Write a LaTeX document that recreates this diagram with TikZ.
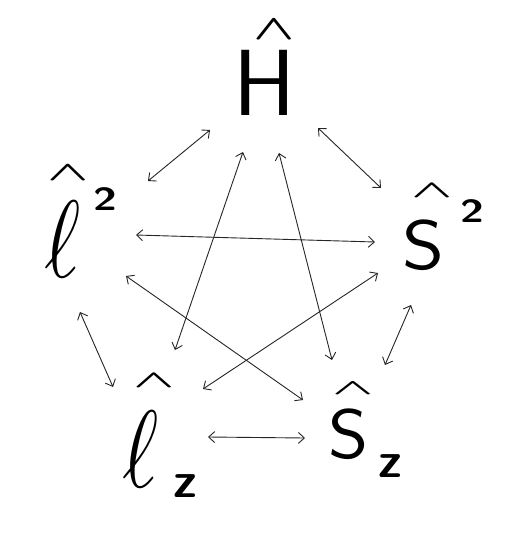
\RequirePackage{fix-cm}
\documentclass[tikz,border=0pt]{standalone}
\usetikzlibrary{arrows.meta}
\newcommand\hatmark[3]{\makebox[0pt][l]{\hspace*{#1}\raisebox{#2}{\scalebox{1}[#3]{\fontsize{54}{54}\selectfont\boldmath$\wedge$}}}}
\newcommand\bigell{\scalebox{0.8}[1]{\fontsize{110}{110}\selectfont$\ell$}}
\newcommand\suptwo{\scalebox{1.35}[1]{\fontsize{32}{32}\selectfont\sffamily\bfseries 2}}
\newcommand\subz{\fontsize{50}{50}\selectfont\sffamily\bfseries z}
\begin{document}
\begin{tikzpicture}[x=1pt,y=-1pt,
  lbl/.style={inner sep=0pt, outer sep=0pt, anchor=base west},
  biarrow/.style={draw=black!85, line width=0.9pt,
    {Straight Barb[length=6pt,width=11pt]}-{Straight Barb[length=6pt,width=11pt]}},
]
\useasboundingbox (0,0) rectangle (523,533);
\fill[white] (0,0) rectangle (523,533);
% labels
\node[lbl] (H) at (233,115)
  {\hatmark{20pt}{76pt}{0.65}\fontsize{94}{94}\selectfont$\mathsf{H}$};
\node[lbl] (L2) at (44,277)
  {\hatmark{3pt}{97pt}{0.5}\bigell\hspace{13pt}\raisebox{67pt}{\suptwo}};
\node[lbl] (S2) at (402,269)
  {\hatmark{9pt}{72pt}{0.45}\scalebox{1.15}[1]{\fontsize{70}{70}\selectfont$\mathsf{S}$}\hspace{16pt}\raisebox{47pt}{\suptwo}};
\node[lbl] (Lz) at (122,487)
  {\hatmark{11pt}{100pt}{0.45}\bigell\hspace{15pt}\raisebox{-10pt}{\subz}};
\node[lbl] (Sz) at (328,458)
  {\hatmark{4pt}{64pt}{0.4}\scalebox{1.1}[1]{\fontsize{70}{70}\selectfont$\mathsf{S}$}\hspace{10pt}\raisebox{-19pt}{\subz}};
% arrow ends
\coordinate (hl) at (210,130); \coordinate (lh) at (148,181);
\coordinate (hs) at (318,128); \coordinate (sh) at (381,188);
\coordinate (hlz) at (243,152); \coordinate (lzh) at (175,350);
\coordinate (hsz) at (279,153); \coordinate (szh) at (332,360);
\coordinate (ls) at (136,235); \coordinate (sl) at (375,242);
\coordinate (lsz) at (126,276); \coordinate (szl) at (303,400);
\coordinate (slz) at (378,273); \coordinate (lzs) at (203,389);
\coordinate (llz) at (80,312); \coordinate (lzl) at (113,387);
\coordinate (ssz) at (411,305); \coordinate (szs) at (385,365);
\coordinate (lzsz) at (208,437); \coordinate (szlz) at (305,438);
% connectors
\draw[biarrow] (hl) -- (lh);
\draw[biarrow] (hs) -- (sh);
\draw[biarrow] (hlz) -- (lzh);
\draw[biarrow] (hsz) -- (szh);
\draw[biarrow] (ls) -- (sl);
\draw[biarrow] (lsz) -- (szl);
\draw[biarrow] (slz) -- (lzs);
\draw[biarrow] (llz) -- (lzl);
\draw[biarrow] (ssz) -- (szs);
\draw[biarrow] (lzsz) -- (szlz);
\end{tikzpicture}
\end{document}
